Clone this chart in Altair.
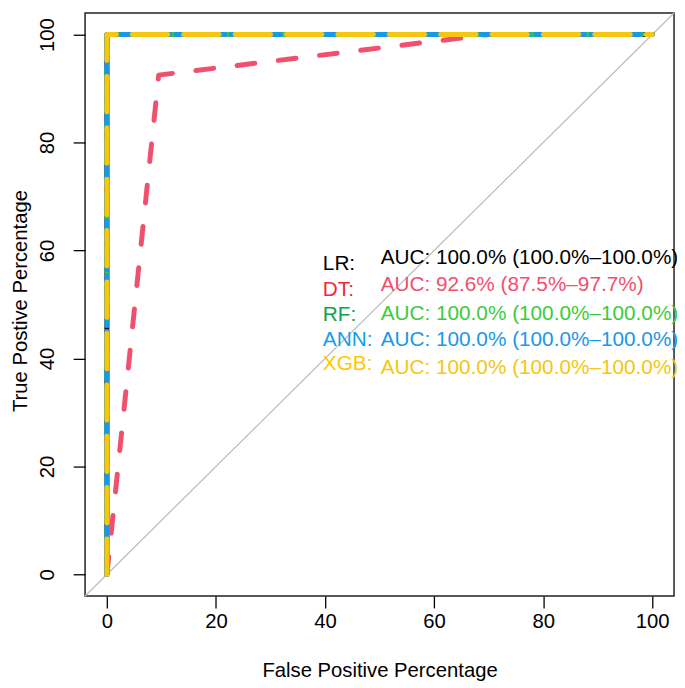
import altair as alt
import pandas as pd

# ---- data ----
models = ["LR", "DT", "RF", "ANN", "XGB"]
colors = ["#000000", "#F0506E", "#3CCB3C", "#1A98E6", "#F5C710"]
label_colors = ["#000000", "#F02A3A", "#10A050", "#10A0E8", "#FFC800"]
auc_text = [
    "AUC: 100.0% (100.0%\u2013100.0%)",
    "AUC: 92.6% (87.5%\u201397.7%)",
    "AUC: 100.0% (100.0%\u2013100.0%)",
    "AUC: 100.0% (100.0%\u2013100.0%)",
    "AUC: 100.0% (100.0%\u2013100.0%)",
]
perfect_fpr = [0, 0, 100]
perfect_tpr = [0, 100, 100]
dt_fpr = [0, 9.5, 70, 100]
dt_tpr = [0, 92.5, 100, 100]
label_tpr = [57.4, 52.6, 48.1, 43.4, 38.9]
auc_tpr = [58.6, 53.6, 48.3, 43.4, 38.3]
label_fpr = 39.6
auc_fpr = 50.2
axis_range = [-4, 104]
ticks = [0, 20, 40, 60, 80, 100]

rows = []
for m in models:
    fx, fy = (dt_fpr, dt_tpr) if m == "DT" else (perfect_fpr, perfect_tpr)
    for i, (a, b) in enumerate(zip(fx, fy)):
        rows.append({"model": m, "fpr": a, "tpr": b, "ord": i})
curves = pd.DataFrame(rows)
diag = pd.DataFrame({"x": axis_range, "y": axis_range})
txt = pd.DataFrame({
    "model": models, "color": colors, "lcolor": label_colors, "auc": auc_text,
    "ly": label_tpr, "ay": auc_tpr,
    "lx": [label_fpr] * 5, "ax": [auc_fpr] * 5,
    "lab": [m + ":" for m in models],
})

FONT = "Liberation Sans"
FS = 20.5
TFS = 21
W, H = 596, 590

xs = alt.Scale(domain=axis_range, nice=False, zero=False)
ys = alt.Scale(domain=axis_range, nice=False, zero=False)

xaxis = alt.Axis(values=ticks, tickSize=12, tickColor="black", tickWidth=1.3,
                 domain=False, grid=False, labelFont=FONT, labelFontSize=FS,
                 labelColor="black", labelPadding=20, labelBaseline="alphabetic",
                 labelFlush=False, labelOverlap=False,
                 title="False Positive Percentage", titleFont=FONT,
                 titleFontSize=FS, titleFontWeight="normal", titleColor="black",
                 titleX=W / 2, titleY=81, titleBaseline="alphabetic",
                 titleAlign="center")
yaxis = alt.Axis(values=ticks, tickSize=12, tickColor="black", tickWidth=1.3,
                 domain=False, grid=False, labelFont=FONT, labelFontSize=FS,
                 labelColor="black", labelPadding=20, labelAngle=270,
                 labelAlign="center", labelBaseline="alphabetic",
                 labelFlush=False, labelOverlap=False,
                 title="True Postive Percentage", titleFont=FONT,
                 titleFontSize=FS, titleFontWeight="normal", titleColor="black",
                 titleAngle=270, titleX=-59, titleY=H / 2 - 4,
                 titleBaseline="alphabetic", titleAlign="center")

diag_layer = alt.Chart(diag).mark_line(color="#BEBEBE", strokeWidth=1.3).encode(
    x=alt.X("x:Q", scale=xs, axis=xaxis),
    y=alt.Y("y:Q", scale=ys, axis=yaxis),
)

dashes = {"LR": None, "DT": [18, 24], "RF": [8, 10], "ANN": [22, 6], "XGB": [36, 16]}
layers = [diag_layer]
for m, c in zip(models, colors):
    kw = dict(color=c, strokeWidth=5, strokeCap="round", strokeJoin="round")
    if dashes[m] is not None:
        kw["strokeDash"] = dashes[m]
    layers.append(
        alt.Chart(curves).transform_filter(alt.datum.model == m)
        .mark_line(**kw).encode(
            x=alt.X("fpr:Q", scale=xs),
            y=alt.Y("tpr:Q", scale=ys),
            order="ord:Q",
        )
    )

lab_layer = alt.Chart(txt).mark_text(font=FONT, fontSize=TFS, align="left",
                                     baseline="middle").encode(
    x=alt.X("lx:Q", scale=xs), y=alt.Y("ly:Q", scale=ys),
    text="lab:N", color=alt.Color("lcolor:N", scale=None),
)
auc_layer = alt.Chart(txt).mark_text(font=FONT, fontSize=TFS, align="left",
                                     baseline="middle").encode(
    x=alt.X("ax:Q", scale=xs), y=alt.Y("ay:Q", scale=ys),
    text="auc:N", color=alt.Color("color:N", scale=None),
)
layers += [lab_layer, auc_layer]

chart = alt.layer(*layers).properties(
    width=W, height=H,
    autosize=alt.AutoSizeParams(type="none"),
    padding={"left": 78, "top": 1, "right": 3, "bottom": 88},
    background="white",
).configure_view(stroke="#222222", strokeWidth=1.5)

chart.save("out.html", embed_options={"renderer": "svg", "actions": False})
